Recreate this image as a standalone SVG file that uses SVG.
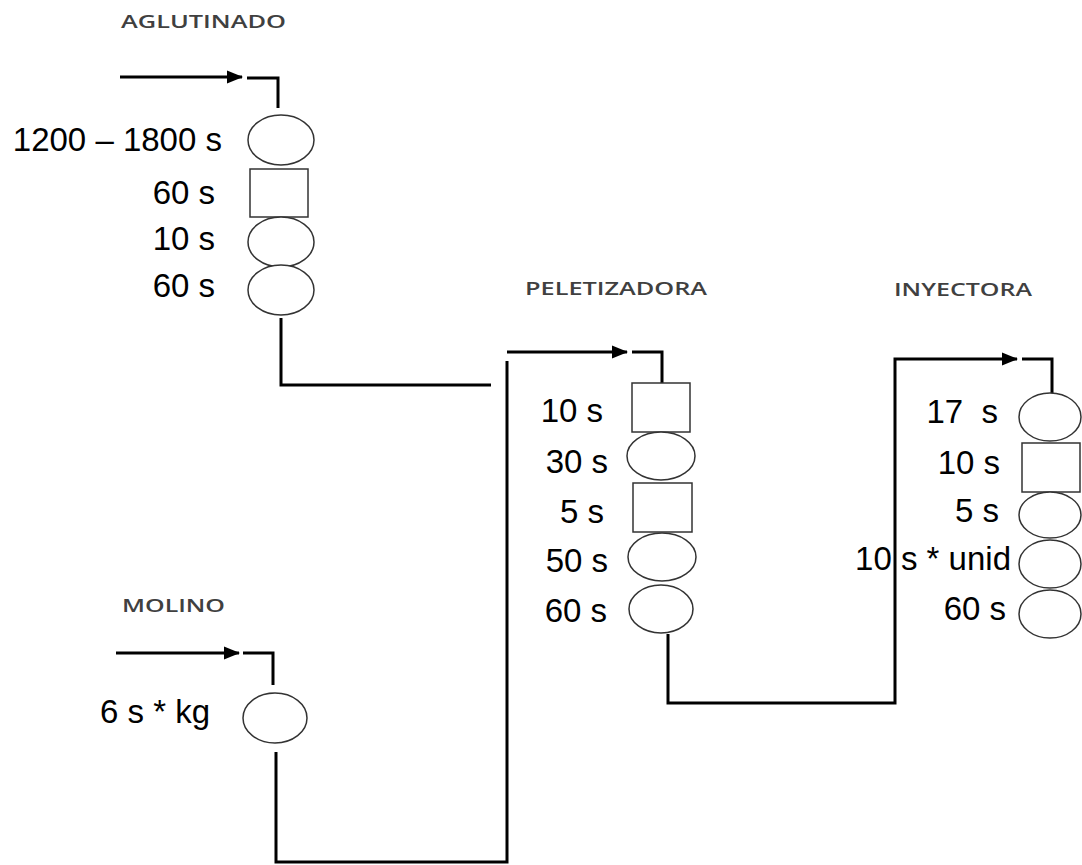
<svg xmlns="http://www.w3.org/2000/svg" width="1082" height="865" viewBox="0 0 1082 865">
<style>
.title{font-family:"Open Sans","Liberation Sans",Arial,sans-serif;font-size:18px;font-weight:600;fill:#404040}
.lbl{font-family:"Liberation Sans",Arial,sans-serif;font-size:33px;fill:#000;text-anchor:end}
.shape{fill:#fff;stroke:#333;stroke-width:1.5}
.conn{fill:none;stroke:#000;stroke-width:3}
</style>
<defs>
<marker id="arr" markerUnits="userSpaceOnUse" viewBox="0 0 16 14" markerWidth="16" markerHeight="14" refX="15" refY="7" orient="auto" overflow="visible">
<path d="M0,0.5 L16,7 L0,13.5 Z" fill="#000"/>
</marker>
</defs>
<rect width="1082" height="865" fill="#fff"/>
<g id="connectors">
<line class="conn" x1="120" y1="77" x2="242" y2="77" marker-end="url(#arr)"/>
<path class="conn" d="M247,78 H278 V108"/>
<path class="conn" d="M281,318 V385 H491"/>
<line class="conn" x1="116" y1="653" x2="239" y2="653" marker-end="url(#arr)"/>
<path class="conn" d="M243,653 H273 V685"/>
<path class="conn" d="M276,752 V862 H507 V361"/>
<line class="conn" x1="507" y1="352" x2="627" y2="352" marker-end="url(#arr)"/>
<path class="conn" d="M632,352 H662 V383"/>
<path class="conn" d="M668,634 V703 H895 V359 H1017" marker-end="url(#arr)"/>
<path class="conn" d="M1022,359 H1052 V393"/>
</g>
<g id="aglutinado">
<text class="title" x="121" y="28" textLength="165" lengthAdjust="spacingAndGlyphs">AGLUTINADO</text>
<ellipse class="shape" cx="281" cy="140" rx="33" ry="25"/>
<rect class="shape" x="250" y="169" width="58" height="48"/>
<ellipse class="shape" cx="281" cy="242" rx="33" ry="25"/>
<ellipse class="shape" cx="281" cy="290" rx="33" ry="25"/>
<text class="lbl" x="222" y="151">1200 – 1800 s</text>
<text class="lbl" x="215" y="204">60 s</text>
<text class="lbl" x="215" y="250">10 s</text>
<text class="lbl" x="215" y="297">60 s</text>
</g>
<g id="molino">
<text class="title" x="122" y="612" textLength="103" lengthAdjust="spacingAndGlyphs">MOLINO</text>
<ellipse class="shape" cx="275" cy="718" rx="32" ry="25"/>
<text class="lbl" x="210" y="723">6 s * kg</text>
</g>
<g id="peletizadora">
<text class="title" x="525" y="295" textLength="182" lengthAdjust="spacingAndGlyphs">PELETIZADORA</text>
<rect class="shape" x="632" y="383" width="58" height="49"/>
<ellipse class="shape" cx="661" cy="456" rx="34" ry="24"/>
<rect class="shape" x="633" y="483" width="59" height="49"/>
<ellipse class="shape" cx="662" cy="557" rx="34" ry="24"/>
<ellipse class="shape" cx="661" cy="609" rx="32" ry="24"/>
<text class="lbl" x="603" y="422">10 s</text>
<text class="lbl" x="608" y="473">30 s</text>
<text class="lbl" x="604" y="523">5 s</text>
<text class="lbl" x="608" y="572">50 s</text>
<text class="lbl" x="607" y="622">60 s</text>
</g>
<g id="inyectora">
<text class="title" x="894" y="296" textLength="138" lengthAdjust="spacingAndGlyphs">INYECTORA</text>
<ellipse class="shape" cx="1050" cy="417" rx="31" ry="24"/>
<rect class="shape" x="1022" y="443" width="58" height="49"/>
<ellipse class="shape" cx="1050" cy="515" rx="31" ry="23"/>
<ellipse class="shape" cx="1050" cy="564" rx="31" ry="24"/>
<ellipse class="shape" cx="1050" cy="614" rx="31" ry="24"/>
<text class="lbl" x="998" y="423" xml:space="preserve">17  s</text>
<text class="lbl" x="1000" y="474">10 s</text>
<text class="lbl" x="999" y="522">5 s</text>
<text class="lbl" x="1011" y="570">10 s * unid</text>
<text class="lbl" x="1006" y="620">60 s</text>
</g>
</svg>
